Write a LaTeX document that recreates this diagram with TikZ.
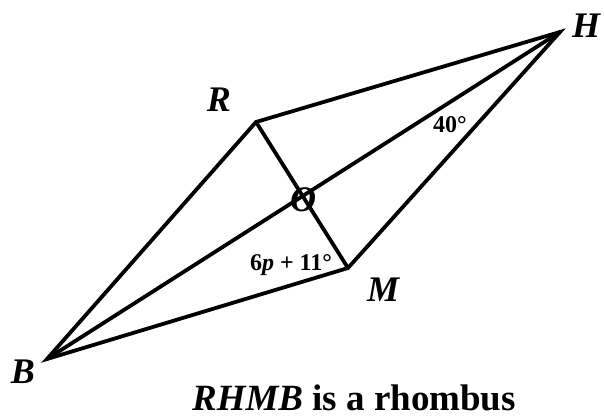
\documentclass[tikz,border=0pt]{standalone}
\usepackage{fontspec}
\setmainfont{Liberation Serif}
\begin{document}
\begin{tikzpicture}[x=1pt,y=-1pt,
  edge/.style={line width=3.8pt,line join=miter,line cap=round},
  vlabel/.style={font=\fontsize{36}{40}\selectfont\bfseries\itshape,inner sep=0pt},
  anglabel/.style={font=\fontsize{24}{28}\selectfont\bfseries,inner sep=0pt}]
\useasboundingbox (0,0) rectangle (604,417);
\coordinate (B) at (47,359);
\coordinate (R) at (256,122);
\coordinate (H) at (560,32);
\coordinate (M) at (348,268);
\draw[edge] (B) -- (R) -- (H) -- (M) -- cycle;
\draw[edge] (B) -- (H);
\draw[edge] (R) -- (M);
\node[vlabel] (lH) at (586,26) {H};
\node[vlabel] (lR) at (219,100) {R};
\node[vlabel] (lM) at (383,290) {M};
\node[vlabel] (lB) at (23,372) {B};
\node[vlabel] (lO) at (303,200) {O};
\node[anglabel] (a40) at (450,125) {40°};
\node[anglabel] (a6p) at (291,265) {6\textit{p} + 11°};
\node[font=\fontsize{37}{42}\selectfont\bfseries,inner sep=0pt,anchor=base] (cap) at (354,410) {\textit{RHMB} is a rhombus};
\end{tikzpicture}
\end{document}
